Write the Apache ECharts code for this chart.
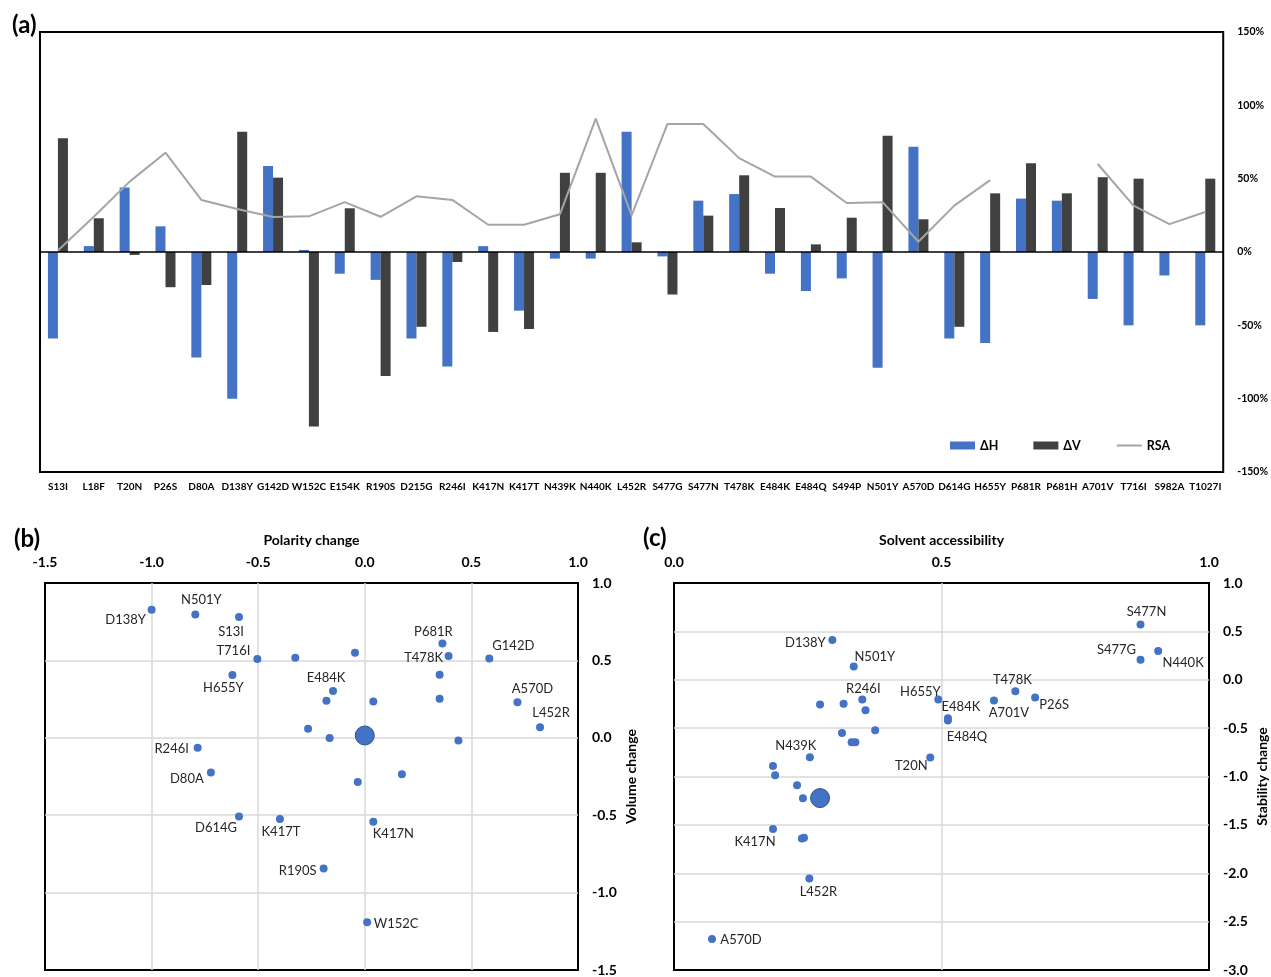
<!DOCTYPE html>
<html><head><meta charset="utf-8">
<script src="https://cdn.jsdelivr.net/npm/echarts@6/dist/echarts.min.js"></script>
<style>html,body{margin:0;padding:0;background:#fff}#c{width:1271px;height:977px}</style>
</head><body><div id="c"></div>
<script>
// ---------- data: panel (a) ----------
const mutations = ['S13I','L18F','T20N','P26S','D80A','D138Y','G142D','W152C','E154K','R190S','D215G','R246I','K417N','K417T','N439K','N440K','L452R','S477G','S477N','T478K','E484K','E484Q','S494P','N501Y','A570D','D614G','H655Y','P681R','P681H','A701V','T716I','S982A','T1027I'];
const deltaH = [-59,4,44,17.5,-72,-100,58.6,1.4,-14.8,-19,-59,-78,4,-40,-4.5,-4.5,82,-3,35,39.5,-14.8,-26.6,-18,-79,71.8,-59,-62,36.4,35,-32,-50,-16,-50];
const deltaV = [77.5,23,-2,-24,-22.5,82,50.7,-119,29.8,-84.5,-51,-6.8,-54.5,-52.5,54,54,6.6,-29,24.8,52.3,30,5.2,23.4,79.3,22.3,-51,40,60.5,40,51,50,0,50];
const rsa = [1,24,48,67.7,35.5,29.3,23.9,24.3,34,24,38,35.5,18.6,18.6,25.7,90.9,25,87.3,87.3,64,51.4,51.4,33.4,34,7,31.6,49,null,null,60,31.6,19,27.3];
const pctTicks = {min:-150, max:150, step:50};

// ---------- data: panel (b) ----------
const bNames    = ['D138Y','N501Y','S13I','P681R','T478K','G142D','T716I','','','H655Y','','E484K','','','','A570D','L452R','','','','R246I','D80A','','','D614G','K417T','K417N','R190S','W152C'];
const bPolarity = [-1.0,-0.795,-0.590,0.364,0.393,0.584,-0.504,-0.326,-0.046,-0.621,0.351,-0.149,-0.180,0.040,0.351,0.716,0.822,-0.266,-0.165,0.439,-0.784,-0.722,0.174,-0.033,-0.590,-0.398,0.040,-0.193,0.011];
const bVolume   = [0.827,0.797,0.780,0.609,0.528,0.513,0.509,0.517,0.549,0.406,0.408,0.303,0.239,0.235,0.252,0.229,0.068,0.058,-0.002,-0.017,-0.064,-0.224,-0.235,-0.286,-0.509,-0.524,-0.543,-0.844,-1.192];
const bCentre   = [0.0, 0.015];

// ---------- data: panel (c) ----------
const cNames     = ['S477N','N440K','S477G','D138Y','N501Y','T478K','P26S','A701V','H655Y','R246I','','','','E484K','E484Q','','','','','N439K','T20N','','','','','K417N','','','L452R','A570D'];
const cAccess    = [0.872,0.905,0.872,0.296,0.336,0.638,0.675,0.598,0.494,0.352,0.317,0.273,0.358,0.512,0.512,0.376,0.314,0.332,0.339,0.254,0.479,0.185,0.189,0.230,0.241,0.185,0.239,0.243,0.253,0.071];
const cStability = [0.570,0.298,0.206,0.410,0.137,-0.118,-0.183,-0.214,-0.204,-0.204,-0.248,-0.255,-0.316,-0.398,-0.422,-0.521,-0.551,-0.647,-0.647,-0.800,-0.804,-0.892,-0.988,-1.090,-1.226,-1.543,-1.642,-1.632,-2.055,-2.679];
const cCentre    = [0.273, -1.223];

// ---------- label placement (layout only) ----------
const bLabelOffset = {D138Y:[-26,10],N501Y:[6,-15],S13I:[-8,15],P681R:[-9,-12],T478K:[-25,2],G142D:[24,-13],T716I:[-24,-8],H655Y:[-9,13],E484K:[-7,-13],A570D:[15,-14],L452R:[11,-14],R246I:[-26,1],D80A:[-24,6],D614G:[-23,11],K417T:[1,13],K417N:[20,12],R190S:[-26,2],W152C:[29,1]};
const cLabelOffset = {S477N:[6,-13],S477G:[-24,-10],N440K:[25,12],D138Y:[-27,3],N501Y:[21,-10],R246I:[1,-11],H655Y:[-18,-8],E484K:[13,-11],E484Q:[19,16],T478K:[-3,-11],A701V:[15,12],P26S:[19,7],N439K:[-14,-11],T20N:[-19,8],K417N:[-18,13],L452R:[9,13],A570D:[29,1]};

const blue='#4472C4', dark='#404040', gray='#A5A5A5';
const F='Lato, "Open Sans", "DejaVu Sans", sans-serif';

function pts(names, xs, ys, offs){
  return names.map((n,i)=>({
    name:n, value:[xs[i], ys[i]],
    label:{show: !!n, position:'inside', offset: offs[n] || [0,0], formatter:'{b}',
           color:'#262626', fontSize:13, fontFamily:F}
  }));
}
const scatterAxisLabel = {margin:14, fontSize:14, fontWeight:'bold', color:'#000', fontFamily:F, formatter:v=>v.toFixed(1)};
const split = {show:true, showMinLine:false, showMaxLine:false, lineStyle:{color:'#D9D9D9', width:1.5}};
const nameStyle = {fontSize:14, fontWeight:'bold', color:'#000', fontFamily:F};

const chart = echarts.init(document.getElementById('c'));
chart.setOption({
  animation:false,
  backgroundColor:'#fff',
  textStyle:{fontFamily:F},
  grid:[
    {left:40, top:32, width:1186, height:440, show:true, borderColor:'#000', borderWidth:2},
    {left:45, top:583, width:533, height:390, show:true, borderColor:'#000', borderWidth:2},
    {left:674, top:583, width:535, height:390, show:true, borderColor:'#000', borderWidth:2}
  ],
  legend:{
    left:950, top:439, padding:0, itemWidth:25, itemHeight:8, itemGap:35,
    textStyle:{fontSize:12.5, fontWeight:'bold', color:'#000', fontFamily:F},
    data:[{name:'ΔH', icon:'rect'},{name:'ΔV', icon:'rect'},
          {name:'RSA', itemStyle:{opacity:0, borderWidth:0}, lineStyle:{color:gray, width:2, opacity:1}}]
  },
  xAxis:[
    {gridIndex:0, type:'category', data:mutations, position:'bottom',
     axisLine:{show:false, onZero:false}, axisTick:{show:false},
     axisLabel:{interval:0, margin:10, fontSize:10, fontWeight:'bold', color:'#000', fontFamily:F}},
    {gridIndex:1, type:'value', min:-1.5, max:1.0, interval:0.5, position:'top',
     name:'Polarity change', nameLocation:'middle', nameGap:36, nameTextStyle:nameStyle,
     axisLine:{show:false, onZero:false}, axisTick:{show:false}, axisLabel:scatterAxisLabel, splitLine:split},
    {gridIndex:2, type:'value', min:0, max:1.0, interval:0.5, position:'top',
     name:'Solvent accessibility', nameLocation:'middle', nameGap:36, nameTextStyle:nameStyle,
     axisLine:{show:false, onZero:false}, axisTick:{show:false}, axisLabel:scatterAxisLabel, splitLine:split}
  ],
  yAxis:[
    {gridIndex:0, type:'value', position:'right', min:pctTicks.min, max:pctTicks.max, interval:pctTicks.step,
     axisLine:{show:false}, axisTick:{show:false}, splitLine:{show:false},
     axisLabel:{margin:14, fontSize:10.5, fontWeight:'bold', color:'#000', fontFamily:F, formatter:'{value}%'}},
    {gridIndex:1, type:'value', position:'right', min:-1.5, max:1.0, interval:0.5,
     name:'Volume change', nameLocation:'middle', nameRotate:90, nameGap:46, nameTextStyle:nameStyle,
     axisLine:{show:false, onZero:false}, axisTick:{show:false}, axisLabel:scatterAxisLabel, splitLine:split},
    {gridIndex:2, type:'value', position:'right', min:-3.0, max:1.0, interval:0.5,
     name:'Stability change', nameLocation:'middle', nameRotate:90, nameGap:46, nameTextStyle:nameStyle,
     axisLine:{show:false, onZero:false}, axisTick:{show:false}, axisLabel:scatterAxisLabel, splitLine:split}
  ],
  graphic:[
    {type:'text', left:12, top:13, style:{text:'(a)', font:'bold 24px '+F, fill:'#000'}},
    {type:'text', left:14, top:527, style:{text:'(b)', font:'bold 24px '+F, fill:'#000'}},
    {type:'text', left:643, top:526, style:{text:'(c)', font:'bold 24px '+F, fill:'#000'}}
  ],
  series:[
    {name:'ΔH', type:'bar', xAxisIndex:0, yAxisIndex:0, data:deltaH, barWidth:10, barGap:'0%',
     itemStyle:{color:blue},
     markLine:{silent:true, symbol:'none', label:{show:false}, lineStyle:{color:'#000', width:1.5, type:'solid'}, data:[{yAxis:0}]}},
    {name:'ΔV', type:'bar', xAxisIndex:0, yAxisIndex:0, data:deltaV, barWidth:10, barGap:'0%',
     itemStyle:{color:dark}},
    {name:'RSA', type:'line', xAxisIndex:0, yAxisIndex:0, data:rsa, symbol:'none', showSymbol:false, connectNulls:false,
     lineStyle:{color:gray, width:2}, itemStyle:{color:gray}, z:3},
    {name:'b', type:'scatter', xAxisIndex:1, yAxisIndex:1, symbolSize:8, itemStyle:{color:blue, opacity:1},
     data:pts(bNames, bPolarity, bVolume, bLabelOffset)},
    {name:'bc', type:'scatter', xAxisIndex:1, yAxisIndex:1, symbolSize:19,
     itemStyle:{color:blue, borderColor:'#2F528F', borderWidth:1, opacity:1}, data:[bCentre]},
    {name:'c', type:'scatter', xAxisIndex:2, yAxisIndex:2, symbolSize:8, itemStyle:{color:blue, opacity:1},
     data:pts(cNames, cAccess, cStability, cLabelOffset)},
    {name:'cc', type:'scatter', xAxisIndex:2, yAxisIndex:2, symbolSize:19,
     itemStyle:{color:blue, borderColor:'#2F528F', borderWidth:1, opacity:1}, data:[cCentre]}
  ]
});
</script>
</body></html>
